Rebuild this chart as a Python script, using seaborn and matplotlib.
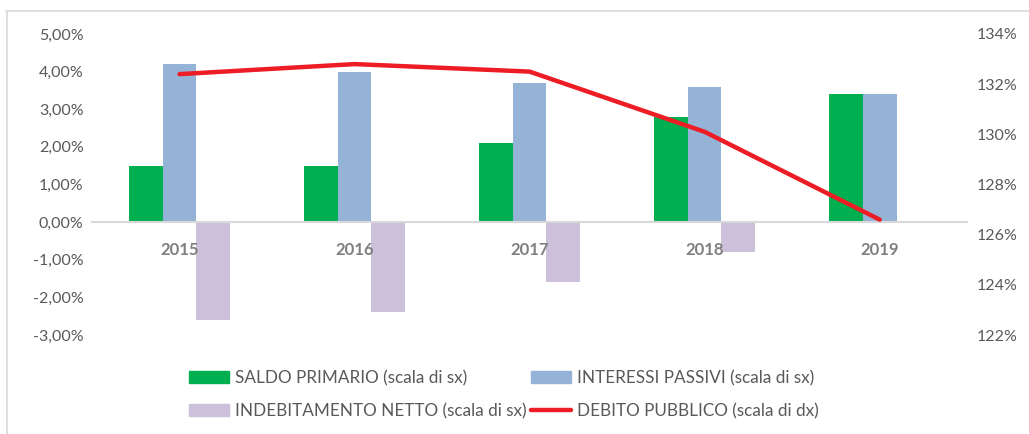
import numpy as np
import pandas as pd
import seaborn as sns
import matplotlib.pyplot as plt
from matplotlib.lines import Line2D
from matplotlib.patches import Patch
from matplotlib.ticker import FuncFormatter

years = ['2015', '2016', '2017', '2018', '2019']
saldo_primario = [1.5, 1.5, 2.1, 2.8, 3.4]
interessi_passivi = [4.2, 4.0, 3.7, 3.6, 3.4]
indebitamento_netto = [-2.6, -2.4, -1.6, -0.8, np.nan]
debito_pubblico = [132.4, 132.8, 132.5, 130.1, 126.6]

lab_saldo = 'SALDO PRIMARIO (scala di sx)'
lab_inter = 'INTERESSI PASSIVI (scala di sx)'
lab_indeb = 'INDEBITAMENTO NETTO (scala di sx)'
lab_debito = 'DEBITO PUBBLICO (scala di dx)'

colori = {lab_saldo: '#00B050', lab_inter: '#95B3D7', lab_indeb: '#CCC0DA'}
rosso = '#EE1C25'
grigio = '#595959'

df = pd.DataFrame({
    'anno': years * 3,
    'valore': saldo_primario + interessi_passivi + indebitamento_netto,
    'serie': [lab_saldo] * 5 + [lab_inter] * 5 + [lab_indeb] * 5,
})

sns.set_style('white')
plt.rcParams['font.family'] = ['Lato', 'DejaVu Sans']

fig = plt.figure(figsize=(10.29, 4.34), dpi=100)
ax = fig.add_axes([0.0894, 0.228, 0.8506, 0.6937])

sns.barplot(data=df, x='anno', y='valore', hue='serie', palette=colori,
            width=0.575, linewidth=0, saturation=1, ax=ax, legend=False)
ax.set_axisbelow(False)
ax.set_xlim(-0.5, 4.5)
ax.set_ylim(-3, 5)
ax.set_yticks(np.arange(-3, 6, 1))
ax.yaxis.set_major_formatter(FuncFormatter(lambda v, p: f'{v:.2f}%'.replace('.', ',')))
ax.set_xlabel('')
ax.set_ylabel('')

for s in ['top', 'right', 'left']:
    ax.spines[s].set_visible(False)
ax.spines['bottom'].set_position(('data', 0))
ax.spines['bottom'].set_color('#D9D9D9')
ax.spines['bottom'].set_linewidth(1.5)
ax.tick_params(axis='x', length=0, pad=14, labelsize=12, labelcolor='#7F7F7F')
for t in ax.get_xticklabels():
    t.set_fontweight('bold')
ax.tick_params(axis='y', length=0, pad=6, labelsize=11.5, labelcolor=grigio)

ax2 = ax.twinx()
sns.lineplot(x=np.arange(len(years)), y=debito_pubblico, color=rosso,
             linewidth=3.2, ax=ax2, solid_capstyle='round')
ax2.set_ylim(122, 134)
ax2.set_yticks(np.arange(122, 135, 2))
ax2.yaxis.set_major_formatter(FuncFormatter(lambda v, p: f'{v:.0f}%'))
ax2.tick_params(axis='y', length=0, pad=7, labelsize=11.5, labelcolor=grigio)
for s in ax2.spines.values():
    s.set_visible(False)
ax2.set_xlim(-0.5, 4.5)

handles = [
    Patch(color=colori[lab_saldo], label=lab_saldo),
    Patch(color=colori[lab_indeb], label=lab_indeb),
    Patch(color=colori[lab_inter], label=lab_inter),
    Line2D([0], [0], color=rosso, linewidth=3.2, label=lab_debito),
]
fig.legend(handles=handles, ncol=2, loc='center', bbox_to_anchor=(0.49, 0.091),
           frameon=False, fontsize=12.3, labelcolor=grigio, handlelength=2.35,
           handleheight=0.75, handletextpad=0.35, columnspacing=0.25, labelspacing=1.0)

# cornice del grafico
fig.add_artist(Line2D([6 / 1029, 1], [1 - 10.5 / 434, 1 - 10.5 / 434], color='#D9D9D9', lw=1.2))
fig.add_artist(Line2D([6.5 / 1029, 6.5 / 1029], [0, 1 - 10.5 / 434], color='#D9D9D9', lw=1.2))

fig.savefig('out.png', dpi=100)
